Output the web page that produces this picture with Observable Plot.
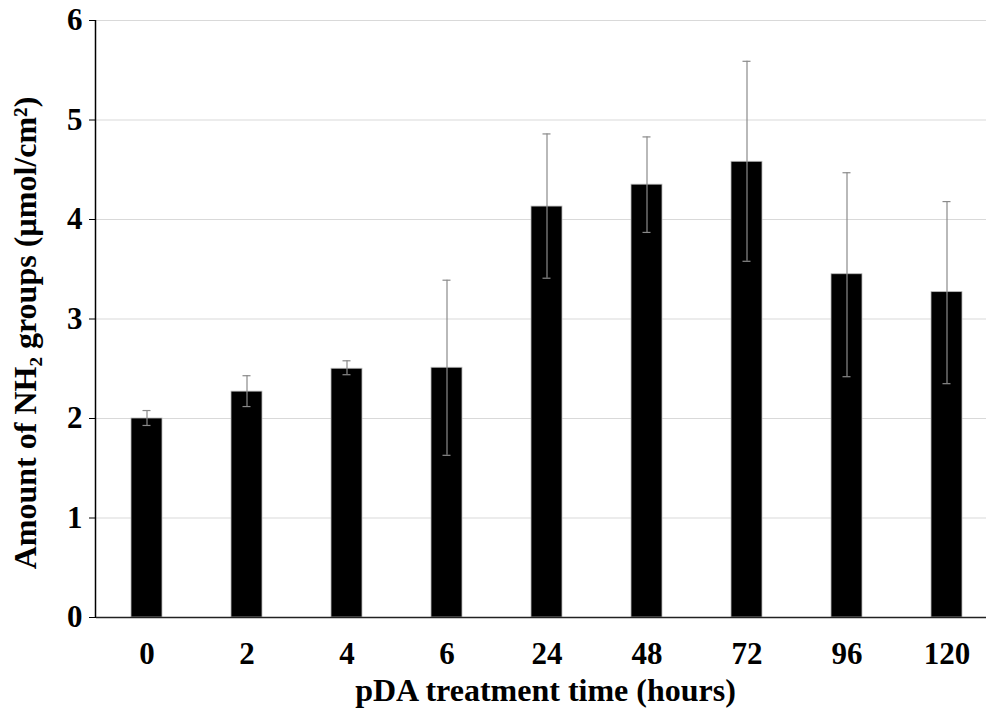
<!DOCTYPE html>
<html>
<head>
<meta charset="utf-8">
<script src="https://cdn.jsdelivr.net/npm/d3@7"></script>
<script src="https://cdn.jsdelivr.net/npm/@observablehq/plot@0.6"></script>
<style>
  html, body { margin: 0; padding: 0; background: #fff; }
  #chart svg { display: block; }
</style>
</head>
<body>
<div id="chart"></div>
<script>
const times = ["0", "2", "4", "6", "24", "48", "72", "96", "120"];
const means = [2.00, 2.27, 2.50, 2.51, 4.13, 4.35, 4.58, 3.45, 3.27];
const errLow = [1.93, 2.12, 2.44, 1.63, 3.41, 3.87, 3.58, 2.42, 2.35];
const errHigh = [2.08, 2.43, 2.58, 3.39, 4.86, 4.83, 5.59, 4.47, 4.18];
const yTicks = [0, 1, 2, 3, 4, 5, 6];
const xTitle = "pDA treatment time (hours)";
const yTitle = "Amount of NH\u2082 groups (\u00b5mol/cm\u00b2)";

const data = times.map((t, i) => ({t, v: means[i], lo: errLow[i], hi: errHigh[i]}));
const font = "'Liberation Serif', 'Times New Roman', serif";

const plot = Plot.plot({
  width: 986,
  height: 717,
  marginTop: 20,
  marginBottom: 100,
  marginLeft: 96,
  marginRight: 0,
  style: {fontFamily: font, background: "#fff", overflow: "visible"},
  x: {domain: times, range: [96, 996], paddingInner: 0.69, paddingOuter: 0.345, label: null},
  y: {domain: [0, 6], ticks: yTicks, label: null},
  marks: [
    Plot.gridY(yTicks.filter(d => d > 0), {stroke: "#d9d9d9", strokeOpacity: 1, strokeWidth: 1}),
    Plot.barY(data, {x: "t", y: "v", fill: "#000", stroke: "#bbb", strokeWidth: 0.8}),
    Plot.ruleX(data, {x: "t", y1: "lo", y2: "hi", stroke: "#8a8a8a", strokeWidth: 1.2}),
    Plot.tickY(data, {x: "t", y: "lo", stroke: "#8a8a8a", strokeWidth: 1.2, insetLeft: 11.5, insetRight: 11.5}),
    Plot.tickY(data, {x: "t", y: "hi", stroke: "#8a8a8a", strokeWidth: 1.2, insetLeft: 11.5, insetRight: 11.5}),
    Plot.ruleY([0], {stroke: "#222", strokeWidth: 1.5}),
    Plot.axisY({ticks: yTicks, tickFormat: d3.format("d"), tickSize: 7, tickPadding: 7, fontSize: 31, fontWeight: "bold", stroke: "#000", fill: "#000", label: null}),
    Plot.axisX({tickSize: 0, tickPadding: 24, fontSize: 31, fontWeight: "bold", fill: "#000", label: null}),
    Plot.text([xTitle], {frameAnchor: "bottom", dx: 4, dy: 73, fontSize: 32, fontWeight: "bold", fill: "#000", lineAnchor: "middle", textAnchor: "middle"}),
    Plot.text([yTitle], {frameAnchor: "left", dx: -71, dy: 14, rotate: -90, fontSize: 32, fontWeight: "bold", fill: "#000", lineAnchor: "middle", textAnchor: "middle"})
  ]
});

// y-axis spine drawn from the y scale
const ys = plot.scale("y");
d3.select(plot).append("line")
  .attr("x1", 95.5).attr("x2", 95.5)
  .attr("y1", ys.apply(6)).attr("y2", ys.apply(0))
  .attr("stroke", "#000").attr("stroke-width", 1.5);

document.getElementById("chart").appendChild(plot);
</script>
</body>
</html>
